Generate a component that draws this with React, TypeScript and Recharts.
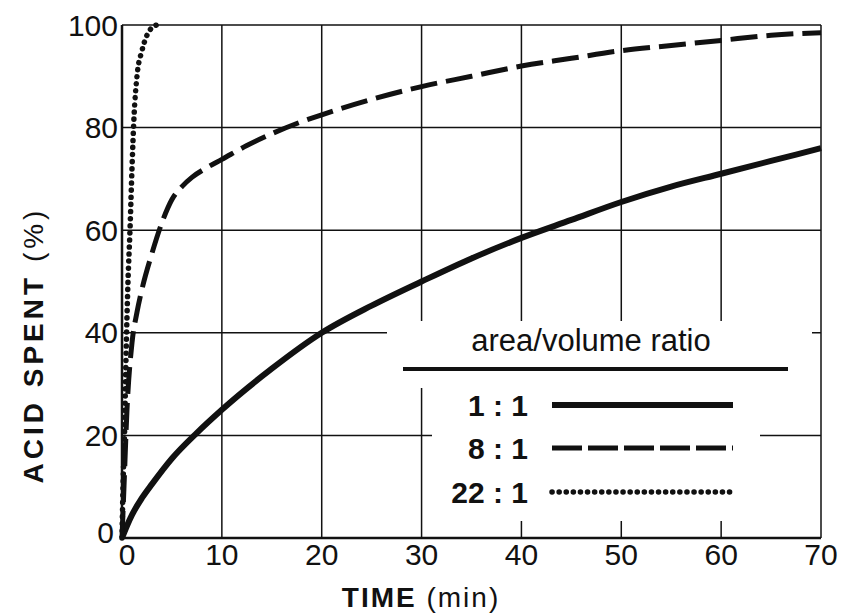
import { CartesianGrid, Line, LineChart, XAxis, YAxis } from "recharts"

// area/volume ratio 1:1
const time1 = [0, 0.5, 1, 2, 3, 5, 7.5, 10, 15, 20, 25, 30, 35, 40, 45, 50, 55, 60, 65, 70]
const spent1 = [0, 2.4, 4.5, 7.8, 10.5, 15.5, 20.5, 25, 33, 40, 45.3, 50, 54.5, 58.5, 62, 65.5, 68.5, 71, 73.5, 76]

// area/volume ratio 8:1
const time8 = [0, 0.2, 0.5, 1, 1.5, 2, 3, 4, 5, 6, 7, 8.5, 10, 12.5, 15, 17.5, 20, 25, 30, 35, 40, 45, 50, 55, 60, 65, 70]
const spent8 = [0, 10, 25, 38, 44, 48.5, 55.5, 61.5, 66, 68.5, 70.3, 72.2, 73.8, 76.5, 78.8, 80.8, 82.5, 85.5, 88, 90, 92, 93.5, 95, 96, 97, 98, 98.5]

// area/volume ratio 22:1
const time22 = [0, 0.1, 0.25, 0.4, 0.6, 0.8, 1, 1.2, 1.5, 2, 2.5, 3, 3.5]
const spent22 = [0, 10, 20, 35, 50, 60, 72, 82, 90, 95, 98, 99.5, 100]

const xTicks = [0, 10, 20, 30, 40, 50, 60, 70]
const yTicks = [0, 20, 40, 60, 80, 100]

const legendRatios = ["1 : 1", "8 : 1", "22 : 1"]

const toPoints = (t: number[], v: number[]) => t.map((x, i) => ({ t: x, v: v[i] }))

const FONT = "'Liberation Sans', Arial, sans-serif"
const INK = "#111"

const lineStyles = [
  { strokeWidth: 6, strokeDasharray: undefined, strokeLinecap: "butt" as const },
  { strokeWidth: 5, strokeDasharray: "27 9", strokeLinecap: "butt" as const },
  { strokeWidth: 5.5, strokeDasharray: "0.1 7", strokeLinecap: "round" as const },
]

// the two zeros at the origin are nudged apart, as in the original
const XTick = ({ x, y, payload }: any) => (
  <text
    x={x + (payload.value === 0 ? 5 : 0)}
    y={y}
    dy="0.71em"
    textAnchor="middle"
    fontSize={30}
    fill={INK}
    fontFamily={FONT}
  >
    {payload.value}
  </text>
)

const YTick = ({ x, y, payload }: any) => (
  <text
    x={x - (payload.value === 0 ? 4 : 0)}
    y={y - (payload.value === 0 ? 6 : 0)}
    dy="0.355em"
    textAnchor="end"
    fontSize={30}
    fill={INK}
    fontFamily={FONT}
  >
    {payload.value}
  </text>
)

export default function App() {
  const legendY = [405, 448, 492]

  return (
    <div style={{ position: "absolute", left: 0, top: 0, width: 844, height: 615, background: "#fff" }}>
      <LineChart
        width={844}
        height={615}
        margin={{ top: 25, right: 23, left: 62, bottom: 47 }}
      >
        <CartesianGrid stroke={INK} strokeWidth={1.5} />
        <XAxis
          dataKey="t"
          type="number"
          domain={[0, 70]}
          ticks={xTicks}
          height={30}
          tickSize={0}
          tickMargin={6}
          tick={<XTick />}
          axisLine={{ stroke: INK, strokeWidth: 2.5 }}
          allowDuplicatedCategory={false}
        />
        <YAxis
          type="number"
          domain={[0, 100]}
          ticks={yTicks}
          width={60}
          tickSize={0}
          tickMargin={4}
          tick={<YTick />}
          axisLine={{ stroke: INK, strokeWidth: 2.5 }}
        />
        <Line
          data={toPoints(time1, spent1)}
          dataKey="v"
          type="monotone"
          stroke={INK}
          dot={false}
          {...lineStyles[0]}
          isAnimationActive={false}
        />
        <Line
          data={toPoints(time8, spent8)}
          dataKey="v"
          type="monotone"
          stroke={INK}
          dot={false}
          {...lineStyles[1]}
          isAnimationActive={false}
        />
        <Line
          data={toPoints(time22, spent22)}
          dataKey="v"
          type="monotone"
          stroke={INK}
          dot={false}
          {...lineStyles[2]}
          isAnimationActive={false}
        />
      </LineChart>

      {/* legend box + axis titles drawn over the plot */}
      <svg
        width={844}
        height={615}
        style={{ position: "absolute", left: 0, top: 0, pointerEvents: "none" }}
      >
        <rect x={387} y={321} width={425} height={67} fill="#fff" />
        <rect x={432} y={388} width={328} height={133} fill="#fff" />
        <text x={591} y={351} textAnchor="middle" fontSize={31} fill={INK} fontFamily={FONT}>
          area/volume ratio
        </text>
        <line x1={403} x2={788} y1={369} y2={369} stroke={INK} strokeWidth={4} />
        {legendRatios.map((r, i) => (
          <g key={r}>
            <text
              x={528}
              y={legendY[i]}
              dy="0.36em"
              textAnchor="end"
              fontSize={30}
              fontWeight="bold"
              fill={INK}
              fontFamily={FONT}
            >
              {r}
            </text>
            <line
              x1={552}
              x2={733}
              y1={legendY[i]}
              y2={legendY[i]}
              stroke={INK}
              strokeWidth={lineStyles[i].strokeWidth}
              strokeDasharray={i === 1 ? "30 6" : lineStyles[i].strokeDasharray}
              strokeLinecap={lineStyles[i].strokeLinecap}
            />
          </g>
        ))}
        <text x={421} y={607} textAnchor="middle" fontSize={28} fill={INK} fontFamily={FONT} letterSpacing={2}>
          <tspan fontWeight="bold">TIME</tspan>
          <tspan> (min)</tspan>
        </text>
        <text
          transform="translate(43, 345) rotate(-90)"
          textAnchor="middle"
          fontSize={28}
          fill={INK}
          fontFamily={FONT}
          letterSpacing={4}
        >
          <tspan fontWeight="bold">ACID SPENT</tspan>
          <tspan> (%)</tspan>
        </text>
      </svg>
    </div>
  )
}
